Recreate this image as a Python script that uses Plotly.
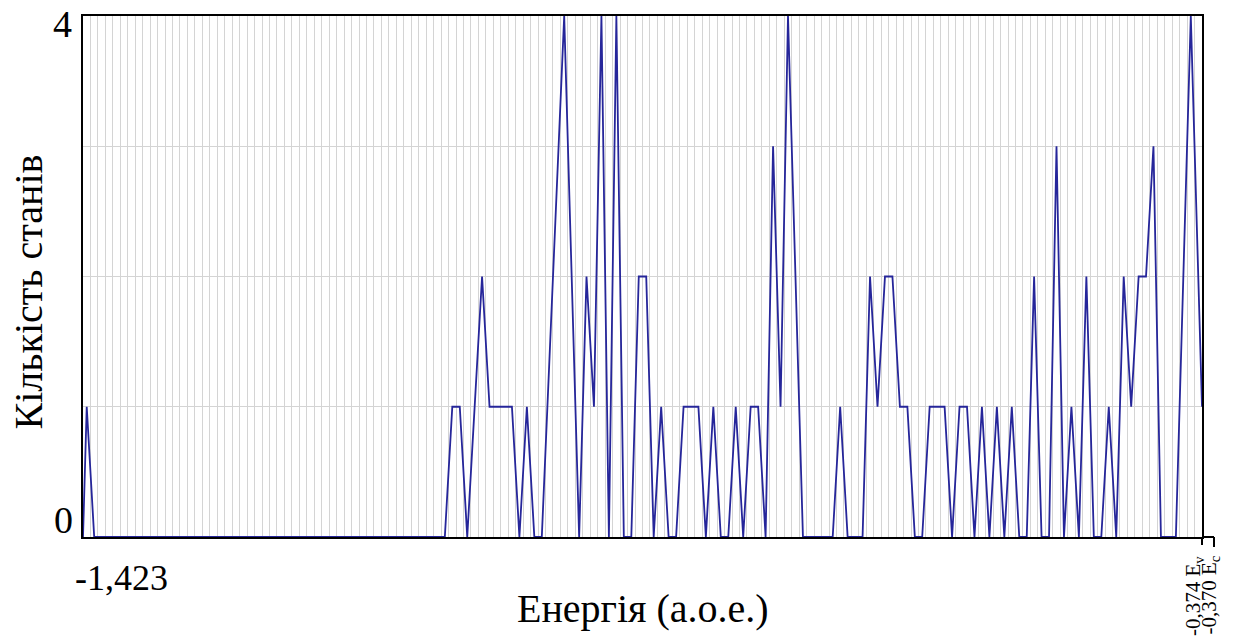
import plotly.graph_objects as go

# ---- data (vertices of the state-count curve) ----
energy = [
    -1.4230, -1.4195, -1.4125, -1.0838, -1.0768, -1.0698, -1.0628, -1.0489, -1.0419, -1.0209,
    -1.0139, -1.0069, -0.9999, -0.9929, -0.9719, -0.9579, -0.9510, -0.9440, -0.9370, -0.9300,
    -0.9230, -0.9160, -0.9090, -0.9020, -0.8950, -0.8880, -0.8810, -0.8740, -0.8670, -0.8600,
    -0.8461, -0.8391, -0.8321, -0.8251, -0.8181, -0.8111, -0.8041, -0.7971, -0.7901, -0.7831,
    -0.7761, -0.7691, -0.7621, -0.7481, -0.7202, -0.7132, -0.7062, -0.6922, -0.6852, -0.6782,
    -0.6712, -0.6642, -0.6572, -0.6502, -0.6432, -0.6363, -0.6293, -0.6153, -0.6083, -0.6013,
    -0.5943, -0.5873, -0.5803, -0.5733, -0.5663, -0.5593, -0.5523, -0.5453, -0.5383, -0.5314,
    -0.5244, -0.5174, -0.5104, -0.5034, -0.4964, -0.4894, -0.4824, -0.4754, -0.4684, -0.4614,
    -0.4544, -0.4474, -0.4404, -0.4334, -0.4265, -0.4195, -0.4125, -0.3985, -0.3845, -0.3775,
    -0.3740,
]
count = [
    0, 1, 0, 0, 1, 1, 0, 2, 1, 1,
    0, 1, 0, 0, 4, 0, 2, 1, 4, 0,
    4, 0, 0, 2, 2, 0, 1, 0, 0, 1,
    1, 0, 1, 0, 0, 1, 0, 1, 1, 0,
    3, 1, 4, 0, 0, 1, 0, 0, 2, 1,
    2, 2, 1, 1, 0, 0, 1, 1, 0, 1,
    1, 0, 1, 0, 1, 0, 1, 0, 0, 2,
    0, 0, 3, 0, 1, 0, 2, 0, 0, 1,
    0, 2, 1, 2, 2, 3, 0, 0, 4, 2,
    1,
]

e_min = -1.423      # left end of the energy axis
e_v = -0.374        # valence band edge
e_c = -0.370        # conduction band edge
n_bins = 150
y_max = 4

x_tick_label = "-1,423"
ev_label = "-0,374 E<sub>v</sub>"
ec_label = "-0,370 E<sub>c</sub>"
y_tick_labels = ["0", "4"]
x_title = "Енергія (а.о.е.)"
y_title = "Кількість станів"

bin_w = (e_v - e_min) / n_bins
FONT = "Liberation Serif, Times New Roman, serif"

W, H = 1242, 640
ML, MR, MT, MB = 83, 40, 16, 103

fig = go.Figure()
fig.add_trace(go.Scatter(
    x=energy, y=count, mode="lines",
    line=dict(color="#26269a", width=1.8),
    showlegend=False, hoverinfo="skip",
))

fig.update_layout(
    width=W, height=H,
    margin=dict(l=ML, r=MR, t=MT, b=MB),
    paper_bgcolor="white", plot_bgcolor="white",
    font=dict(family=FONT, color="black"),
    xaxis=dict(
        range=[e_min, e_v], tick0=e_min, dtick=bin_w,
        showgrid=True, gridcolor="#d4d4d4", gridwidth=1,
        showticklabels=False, ticks="", zeroline=False,
        showline=True, mirror=True, linecolor="black", linewidth=2,
    ),
    yaxis=dict(
        range=[0, y_max], dtick=1,
        showgrid=True, gridcolor="#d4d4d4", gridwidth=1,
        showticklabels=False, ticks="", zeroline=False,
        showline=True, mirror=True, linecolor="black", linewidth=2,
    ),
)

ann = []
# y tick labels
ann.append(dict(text=y_tick_labels[0], xref="paper", yref="y", x=0, y=0,
                xanchor="right", yanchor="bottom", xshift=-8, yshift=-6,
                showarrow=False, font=dict(size=38, family=FONT)))
ann.append(dict(text=y_tick_labels[1], xref="paper", yref="y", x=0, y=y_max,
                xanchor="right", yanchor="middle", xshift=-9, yshift=-8,
                showarrow=False, font=dict(size=38, family=FONT)))
# x tick label
ann.append(dict(text=x_tick_label, xref="paper", yref="paper", x=0, y=0,
                xanchor="left", yanchor="top", xshift=-10, yshift=-19,
                showarrow=False, font=dict(size=36, family=FONT)))
# band-edge labels (rotated)
ec_px = 12
ann.append(dict(text=ev_label, xref="paper", yref="paper", x=1, y=0,
                xanchor="center", yanchor="top", xshift=-8, yshift=-17,
                textangle=-90, showarrow=False, font=dict(size=21, family=FONT)))
ann.append(dict(text=ec_label, xref="paper", yref="paper", x=1, y=0,
                xanchor="center", yanchor="top", xshift=ec_px - 5, yshift=-17,
                textangle=-90, showarrow=False, font=dict(size=21, family=FONT)))
# axis titles
ann.append(dict(text=x_title, xref="paper", yref="paper", x=0.5, y=0,
                xanchor="center", yanchor="middle", yshift=-71,
                showarrow=False, font=dict(size=40, family=FONT)))
ann.append(dict(text=y_title, xref="paper", yref="paper", x=0, y=0.5,
                xanchor="center", yanchor="middle", xshift=-55, yshift=-16,
                textangle=-90, showarrow=False, font=dict(size=40, family=FONT)))
fig.update_layout(annotations=ann)

# Ev / Ec bracket ticks below the axis
plot_w = W - ML - MR
plot_h = H - MT - MB
tick_len = 8 / plot_h
ec_x = 1 + ec_px / plot_w
fig.add_shape(type="line", xref="paper", yref="paper", x0=1, x1=1, y0=0, y1=-tick_len,
              line=dict(color="black", width=2))
fig.add_shape(type="line", xref="paper", yref="paper", x0=1, x1=ec_x, y0=0, y1=0,
              line=dict(color="black", width=2))
fig.add_shape(type="line", xref="paper", yref="paper", x0=ec_x, x1=ec_x, y0=0, y1=-tick_len - 0.004,
              line=dict(color="black", width=2))

fig.write_html("out.html", config={"displayModeBar": False},
               post_script="document.body.style.margin='0';")
